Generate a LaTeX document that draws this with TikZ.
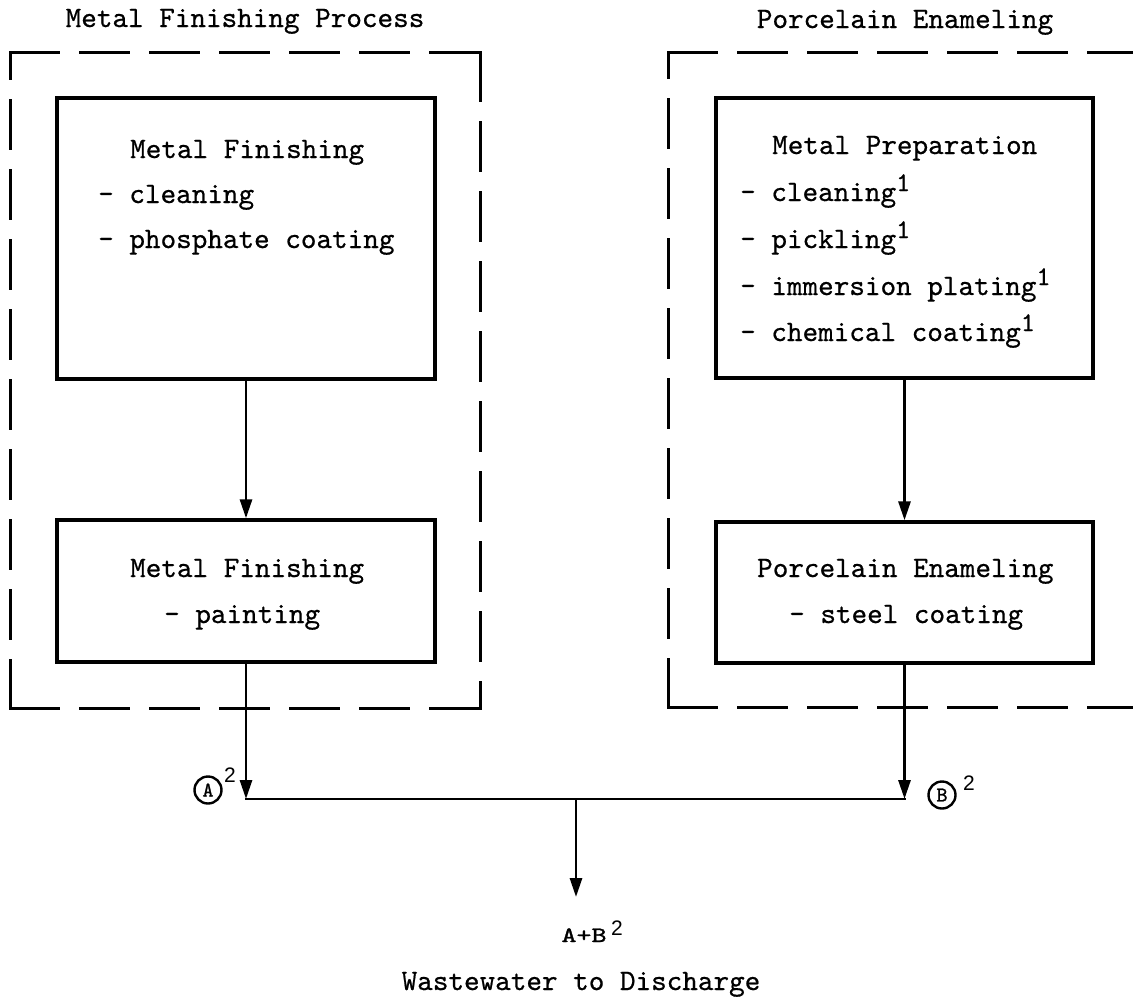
\documentclass[tikz,border=0pt]{standalone}
\usepackage{fontspec}
\usetikzlibrary{arrows.meta}
\newfontfamily\twfont{lmmono10-regular.otf}[FakeBold=0.6]
\newfontfamily\lblfont{lmmono10-regular.otf}[FakeBold=1.2]
\newfontfamily\supsans{Liberation Sans}
\newcommand{\supone}{\raisebox{10pt}{\fontsize{27}{27}\selectfont 1}}
\tikzset{
  procbox/.style={draw, rectangle, line width=3.4pt, inner sep=0pt},
  grpline/.style={line width=3pt, dash pattern=on 48pt off 22pt, line cap=rect},
  conn/.style={line width=2.9pt},
  arr/.style={conn, -{Triangle[length=19pt,width=12pt]}},
  txt/.style={inner sep=0pt, font=\twfont\fontsize{29.7}{36}\selectfont, anchor=base west},
  ctxt/.style={txt, anchor=base},
  suptwo/.style={inner sep=0pt, font=\supsans\fontsize{21}{21}\selectfont},
  circ/.style={circle, draw, line width=2.4pt, minimum size=27pt, inner sep=0pt,
               font=\lblfont\fontsize{21}{21}\selectfont},
}
\begin{document}
\begin{tikzpicture}[x=1pt,y=-1pt]
\clip (0,0) rectangle (1133,997);
\fill[white] (0,0) rectangle (1133,997);

% group frames (left)
\coordinate (L1) at (10,52);
\coordinate (L2) at (480,52);
\coordinate (L3) at (480,708);
\coordinate (L4) at (10,708);
\draw[grpline] (L1) -- (L2);
\draw[grpline] (L4) -- (L1);
\draw[grpline] (L2) -- (L3);
\draw[grpline] (L4) -- (L3);
% group frames (right, open to the right edge)
\coordinate (R1) at (1160,52);
\coordinate (R2) at (668,52);
\coordinate (R3) at (668,707);
\coordinate (R4) at (1160,707);
\draw[grpline] (R2) -- (R1);
\draw[grpline] (R3) -- (R2);
\draw[grpline] (R3) -- (R4);

% titles
\node[ctxt] (t1) at (245,27) {Metal Finishing Process};
\node[ctxt] (t2) at (905,28) {Porcelain Enameling};

% boxes
\node[procbox, minimum width=378pt, minimum height=281pt] (b1) at (246,238.5) {};
\node[procbox, minimum width=378pt, minimum height=142pt] (b2) at (246,591) {};
\node[procbox, minimum width=377pt, minimum height=280pt] (b3) at (904.5,238) {};
\node[procbox, minimum width=377pt, minimum height=141pt] (b4) at (904.5,592.5) {};

% box texts
\node[txt] (b1a) at (130,158) {Metal Finishing};
\node[txt] (b1b) at (98,203) {- cleaning};
\node[txt] (b1c) at (98,248) {- phosphate coating};

\node[txt] (b2a) at (130,577) {Metal Finishing};
\node[txt] (b2b) at (164,623) {- painting};

\node[txt] (b3a) at (772,154) {Metal Preparation};
\node[txt] (b3b) at (740,201) {- cleaning\supone};
\node[txt] (b3c) at (740,248) {- pickling\supone};
\node[txt] (b3d) at (740,295) {- immersion plating\supone};
\node[txt] (b3e) at (740,341) {- chemical coating\supone};

\node[txt] (b4a) at (757,577) {Porcelain Enameling};
\node[txt] (b4b) at (789,623) {- steel coating};

% connectors
\draw[arr] (b1.south) -- (b2.north);
\draw[arr] (b3.south) -- (b4.north);
\coordinate (jA) at (246,799);
\coordinate (jB) at (904.5,799);
\coordinate (jM) at (576,799);
\coordinate (jOut) at (576,897);
\draw[arr] (b2.south) -- (jA);
\draw[arr] (b4.south) -- (jB);
\draw[conn, line cap=rect] (jA) -- (jB);
\draw[arr] (jM) -- (jOut);

% stream labels
\node[circ] (cA) at (208,790) {A};
\node[suptwo] (sA) at (230,775) {2};
\node[circ] (cB) at (942,795) {B};
\node[suptwo] (sB) at (969,783) {2};

\node[inner sep=0pt, anchor=base, font=\lblfont\fontsize{22}{22}\selectfont] (ab) at (584,942) {\scalebox{1.3}[1]{A+B}};
\node[suptwo] (sAB) at (617,928) {2};
\node[ctxt] (ww) at (581,990) {Wastewater to Discharge};
\end{tikzpicture}
\end{document}
